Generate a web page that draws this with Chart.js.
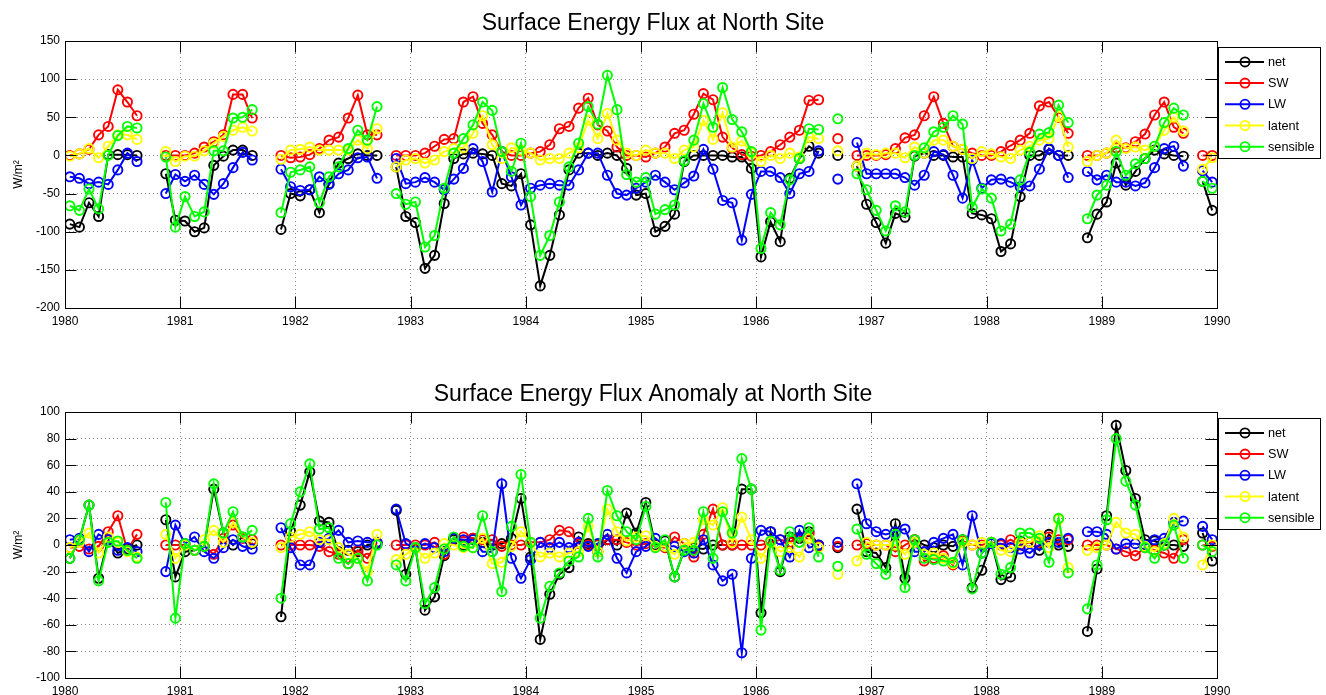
<!DOCTYPE html>
<html><head><meta charset="utf-8">
<script src="https://cdn.jsdelivr.net/npm/chart.js@4.4.1/dist/chart.umd.min.js"></script>
<style>
html,body{margin:0;padding:0;background:#fff;overflow:hidden;width:1326px;height:695px}
.wrap{position:absolute;left:0;width:1326px;height:340px}
</style></head><body>
<div class="wrap" style="top:0"><canvas id="c1" width="1326" height="340"></canvas></div>
<div class="wrap" style="top:370px"><canvas id="c2" width="1326" height="340"></canvas></div>
<script>
const startYear = 1980;
const yearTicks = [1980,1981,1982,1983,1984,1985,1986,1987,1988,1989,1990];
const seriesNames = ['net','SW','LW','latent','sensible'];
const seriesColors = ['#000000','#ff0000','#0000ff','#ffff00','#00ff00'];
const titleTop = 'Surface Energy Flux at North Site';
const titleBottom = 'Surface Energy Flux Anomaly at North Site';
const yLabel = 'W/m\u00B2';

// monthly values, Jan 1980 .. Dec 1989 (null = missing)
const fluxNet = [-90,-94,-62,-80,1,1,1,0,null,null,
 -24,-85,-86,-100,-95,-13,-1,7,7,0,null,null,
 -97,-50,-53,-45,-75,-37,-10,-4,2,0,0,null,
 -15,-80,-88,-148,-131,-63,-4,2,3,2,0,-37,
 -40,-24,-91,-171,-131,-78,-19,3,3,0,3,0,
 -17,-52,-50,-100,-93,-77,-8,0,0,0,0,-2,
 -2,-17,-133,-87,-113,-30,-4,12,3,null,0,null,
 -14,-64,-88,-115,-76,-81,-1,3,0,0,-2,-2,
 -76,-78,-83,-126,-116,-54,0,0,8,0,0,null,
 -108,-77,-61,-10,-39,-21,-4,7,2,0,-1,null,
 -34,-72];
const fluxSW = [0,2,8,27,38,86,70,52,null,null,
 0,0,0,3,11,18,27,80,80,49,null,null,
 0,-3,-2,1,9,20,24,49,79,27,27,null,
 0,0,0,3,12,21,22,70,77,42,27,5,
 0,0,3,5,14,35,38,62,75,40,32,11,
 0,0,-2,3,11,29,33,54,81,73,24,10,
 1,-1,0,5,14,24,33,72,73,null,22,null,
 0,0,0,1,9,23,27,52,77,42,12,8,
 3,0,0,5,13,20,29,65,70,50,29,null,
 0,0,3,10,10,18,28,53,70,37,29,null,
 0,0];
const fluxLW = [-28,-30,-37,-35,-38,-19,3,-8,null,null,
 -50,-25,-34,-26,-38,-51,-37,-16,4,-6,null,null,
 -18,-41,-46,-45,-28,-38,-24,-19,-3,-2,-30,null,
 -4,-37,-35,-29,-35,-45,-31,-17,9,-8,-48,5,
 -28,-65,-43,-39,-37,-39,-39,-19,3,3,-26,-50,
 -52,-43,-35,-26,-35,-45,-36,-27,8,-18,-59,-62,
 -111,-51,-21,-21,-29,-50,-24,-21,6,null,-31,null,
 17,-24,-24,-24,-24,-29,-39,-26,5,1,-26,-56,
 -6,-43,-32,-31,-35,-41,-40,-18,9,0,-29,null,
 -21,-32,-26,-35,-35,-40,-36,-16,9,12,-14,null,
 -20,-35];
const fluxLatent = [-1,2,9,-3,12,27,27,21,null,null,
 5,-8,-1,-1,6,16,25,33,37,32,null,null,
 -5,7,8,11,7,7,7,7,20,9,35,null,
 -15,-6,-4,-10,-6,5,9,10,29,52,14,-4,
 10,7,3,-6,-4,-4,3,10,46,22,55,20,
 3,0,7,3,3,-4,7,11,46,21,56,11,
 19,3,-8,0,-4,3,-2,24,22,null,6,null,
 -14,3,1,3,3,-3,11,3,20,20,12,8,
 -4,5,2,-2,-4,7,12,20,22,51,11,null,
 -8,0,3,20,9,11,7,12,33,50,32,null,
 -18,-3];
const fluxSensible = [-66,-72,-44,-70,0,26,38,36,null,null,
 -2,-94,-54,-80,-74,6,6,49,50,60,null,null,
 -75,-22,-19,-15,-62,-28,-15,9,33,20,64,null,
 -50,-64,-61,-120,-105,-43,3,22,40,70,59,5,
 -21,16,-54,-131,-105,-61,-15,16,64,41,105,60,
 -25,-35,-29,-77,-71,-65,-7,20,68,37,89,47,
 31,5,-122,-75,-91,-32,-4,35,34,null,48,null,
 -24,-45,-72,-99,-66,-74,0,10,31,37,52,41,
 -68,-44,-56,-99,-90,-32,4,28,30,66,43,null,
 -83,-52,-39,5,-26,-11,-4,12,43,62,53,null,
 -34,-43];

const anomNet = [-10,4,30,-25,4,-6,-3,0,null,null,
 19,-24,-5,-4,-1,42,9,0,6,1,null,null,
 -54,10,30,55,18,17,-5,-4,-5,0,1,null,
 26,-22,-2,-49,-39,-8,4,0,5,2,0,1,
 5,35,-9,-71,-37,-22,-17,6,1,-5,4,0,
 24,9,32,0,3,-24,-4,-2,-3,0,0,0,
 42,42,-51,10,-20,6,5,10,0,null,-2,null,
 27,-5,-6,-17,16,-25,4,0,-2,0,-1,4,
 -32,-19,2,-26,-24,3,2,-4,8,0,-1,null,
 -65,-18,22,90,56,35,4,3,0,0,-1,null,
 9,-12];
const anomSW = [-2,-1,-3,-1,10,22,-4,8,null,null,
 0,0,0,-4,-1,-7,5,15,5,4,null,null,
 0,0,0,0,-1,-5,-7,-14,-4,-10,2,null,
 0,0,0,0,2,-7,5,6,5,4,4,-1,
 0,0,2,2,4,11,10,1,0,0,4,4,
 2,0,1,-1,-2,6,1,-9,8,27,0,0,
 0,0,0,2,4,2,6,8,-1,null,-1,null,
 0,1,0,0,-5,0,4,-12,-10,-8,-15,3,
 0,0,2,0,4,0,2,2,6,4,4,null,
 0,0,0,-3,-5,-8,-2,-4,-6,-10,4,null,
 0,-1];
const anomLW = [4,5,-5,8,4,-4,-2,-5,null,null,
 -20,15,1,6,-5,-10,-2,4,-1,-3,null,null,
 13,-2,-15,-15,2,5,11,2,3,2,2,null,
 27,1,-2,1,-2,-5,5,4,4,-5,-5,46,
 -10,-25,-11,2,-2,2,-2,2,-1,1,8,-10,
 -21,-5,-1,5,-1,-1,-5,-6,4,-15,-27,-22,
 -81,-10,11,10,4,-9,11,-2,0,null,2,null,
 46,16,10,8,10,12,-5,-5,2,5,8,-15,
 22,-6,1,1,-2,-3,-6,0,2,2,5,null,
 10,10,8,-3,1,1,0,4,5,17,18,null,
 14,4];
const anomLatent = [-2,2,9,-6,6,2,-5,-9,null,null,
 8,-10,0,-4,4,11,2,17,6,2,null,null,
 -2,6,8,10,4,4,-2,-7,-10,-20,8,null,
 -11,-7,-2,-10,-6,1,0,-2,-2,5,-14,-13,
 -1,10,2,-9,-6,-9,-6,-5,14,-5,27,10,
 3,6,7,-1,-1,-7,1,2,19,15,28,2,
 21,4,-10,2,-5,-2,-9,5,-2,null,-22,null,
 -12,2,0,0,0,-7,2,-7,-6,-10,-14,2,
 0,2,2,-4,-5,2,2,7,-2,19,-17,null,
 -4,-2,0,17,9,8,-1,-5,1,20,6,null,
 -15,0];
const anomSensible = [-10,4,30,-27,2,3,-4,-10,null,null,
 32,-55,1,-4,-1,46,9,25,6,11,null,null,
 -40,16,40,61,12,13,-10,-14,-10,-27,0,null,
 -15,-27,-2,-44,-32,-3,6,-1,-2,22,-5,-35,
 14,53,2,-55,-31,-21,-12,-9,20,-9,41,22,
 10,4,29,-2,4,-24,-4,-4,25,-10,25,9,
 65,42,-64,3,-19,10,2,13,-9,null,-16,null,
 12,-7,-14,-22,8,-32,4,-10,-11,-12,-13,4,
 -33,-6,2,-22,-17,9,9,5,-13,20,-21,null,
 -48,-15,19,80,48,30,-2,-10,0,15,-10,null,
 0,-5];

const FONT = '"Liberation Sans", Arial, Helvetica, sans-serif';
const monthX = i => startYear + (i + 0.5) / 12;

const decorPlugin = {
  id: 'decor',
  afterDatasetsDraw(chart, args, opts) {
    const {ctx, chartArea: a, scales} = chart;
    ctx.save();
    ctx.strokeStyle = '#000'; ctx.lineWidth = 1;
    ctx.strokeRect(Math.round(a.left) + 0.5, Math.round(a.top) + 0.5, Math.round(a.right - a.left), Math.round(a.bottom - a.top));
    const tl = 11.5;
    ctx.beginPath();
    scales.x.ticks.forEach(t => {
      const px = Math.round(scales.x.getPixelForValue(t.value)) + 0.5;
      ctx.moveTo(px, a.bottom); ctx.lineTo(px, a.bottom - tl);
      ctx.moveTo(px, a.top); ctx.lineTo(px, a.top + tl);
    });
    scales.y.ticks.forEach(t => {
      const py = Math.round(scales.y.getPixelForValue(t.value)) + 0.5;
      ctx.moveTo(a.left, py); ctx.lineTo(a.left + tl, py);
      ctx.moveTo(a.right, py); ctx.lineTo(a.right - tl, py);
    });
    ctx.stroke();
    ctx.fillStyle = '#000';
    ctx.font = '23px ' + FONT;
    ctx.textAlign = 'center'; ctx.textBaseline = 'middle';
    ctx.fillText(opts.title, 653, opts.titleY);
    const bx = 1218.5, by = opts.legendTop + 0.5, bw = 102, bh = 111;
    ctx.fillStyle = '#fff';
    ctx.fillRect(bx, by, bw, bh);
    ctx.strokeStyle = '#000'; ctx.lineWidth = 1;
    ctx.strokeRect(bx, by, bw, bh);
    ctx.font = '12.7px ' + FONT;
    ctx.textAlign = 'left';
    chart.data.datasets.forEach((ds, k) => {
      const y = by + 14.4 + k * 21.2;
      ctx.strokeStyle = ds.borderColor; ctx.lineWidth = 2;
      ctx.beginPath(); ctx.moveTo(1225, y); ctx.lineTo(1264, y); ctx.stroke();
      ctx.lineWidth = 1.8;
      ctx.beginPath(); ctx.arc(1245, y, 4.6, 0, Math.PI * 2); ctx.stroke();
      ctx.fillStyle = '#000';
      ctx.fillText(ds.label, 1268, y + 0.5);
    });
    ctx.restore();
  }
};

function makeChart(id, title, series, yMin, yMax, yStep, padTop, titleY, legendTop) {
  const datasets = series.map((vals, k) => ({
    label: seriesNames[k],
    data: vals.map((v, i) => ({x: monthX(i), y: v})),
    borderColor: seriesColors[k],
    backgroundColor: seriesColors[k],
    pointBorderColor: seriesColors[k],
    pointBackgroundColor: 'rgba(0,0,0,0)',
    borderWidth: 2,
    pointRadius: 4.6,
    pointBorderWidth: 1.9,
    pointHoverRadius: 4.6,
    tension: 0,
    spanGaps: false,
    order: 5 - k
  }));
  return new Chart(document.getElementById(id), {
    type: 'line',
    data: {datasets},
    options: {
      responsive: false,
      animation: false,
      events: [],
      layout: {padding: {top: padTop, right: 109, left: 0, bottom: 0}},
      plugins: {
        legend: {display: false},
        tooltip: {enabled: false},
        title: {display: false},
        decor: {title: title, titleY: titleY, legendTop: legendTop}
      },
      scales: {
        x: {
          type: 'linear', min: 1980, max: 1990,
          afterBuildTicks: s => { s.ticks = yearTicks.map(v => ({value: v})); },
          ticks: {callback: v => String(v), color: '#000', font: {family: FONT, size: 12}, padding: 6, maxRotation: 0, autoSkip: false},
          grid: {drawTicks: false, color: '#8a8a8a', lineWidth: 1},
          border: {display: false, dash: [1, 3]},
          afterFit: s => { s.height = 32; }
        },
        y: {
          min: yMin, max: yMax,
          afterBuildTicks: s => { const t = []; for (let v = yMin; v <= yMax; v += yStep) t.push({value: v}); s.ticks = t; },
          ticks: {color: '#000', font: {family: FONT, size: 12}, padding: 5},
          grid: {drawTicks: false, color: '#8a8a8a', lineWidth: 1},
          border: {display: false, dash: [1, 3]},
          title: {display: true, text: yLabel, color: '#000', font: {family: FONT, size: 12}, padding: {top: 11, bottom: 0}},
          afterFit: s => { s.width = 65; }
        }
      }
    },
    plugins: [decorPlugin]
  });
}

makeChart('c1', titleTop, [fluxNet, fluxSW, fluxLW, fluxLatent, fluxSensible], -200, 150, 50, 41, 23.5, 47);
makeChart('c2', titleBottom, [anomNet, anomSW, anomLW, anomLatent, anomSensible], -100, 100, 20, 42, 24.5, 48);
</script>
</body></html>
